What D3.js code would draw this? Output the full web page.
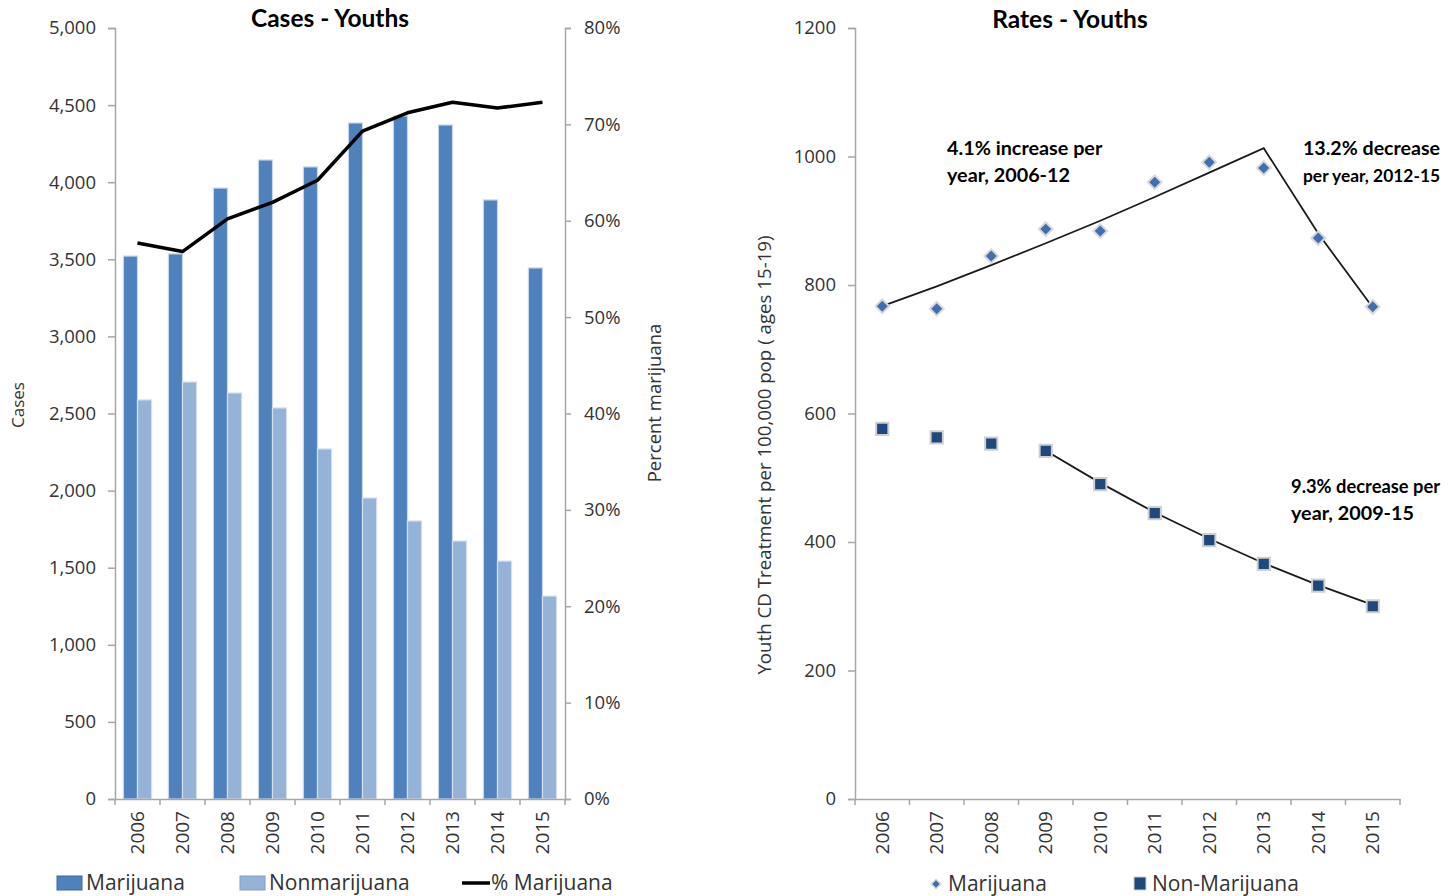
<!DOCTYPE html>
<html>
<head>
<meta charset="utf-8">
<script src="https://cdn.jsdelivr.net/npm/d3@7/dist/d3.min.js"></script>
<style>
  html, body { margin: 0; padding: 0; background: #fff; }
  svg { display: block; }
  .tick text { font-family: "Open Sans", sans-serif; fill: #333; }
</style>
</head>
<body>
<svg id="chart" width="1450" height="896"></svg>
<script>
// ---------- Data ----------
const years = ["2006","2007","2008","2009","2010","2011","2012","2013","2014","2015"];
const casesMarijuana    = [3521, 3535, 3962, 4144, 4099, 4384, 4429, 4371, 3885, 3444];
const casesNonmarijuana = [2588, 2704, 2633, 2536, 2270, 1952, 1803, 1673, 1543, 1316];
const pctMarijuana      = [57.7, 56.8, 60.2, 61.9, 64.2, 69.3, 71.2, 72.3, 71.7, 72.3];
const casesTicks = [0, 500, 1000, 1500, 2000, 2500, 3000, 3500, 4000, 4500, 5000];
const pctTicks   = [0, 10, 20, 30, 40, 50, 60, 70, 80];

const rateMarijuana    = [767, 763, 845, 887, 884, 960, 991, 982, 873, 766];
const rateNonmarijuana = [576, 563, 553, 542, 490, 445, 403, 366, 332, 300];
const trendMarijuana    = [767, 798, 831, 865, 900, 937, 975, 1013, 880, 765];
const trendNonYears     = ["2009","2010","2011","2012","2013","2014","2015"];
const trendNonmarijuana = [542, 492, 446, 405, 367, 333, 302];
const rateTicks = [0, 200, 400, 600, 800, 1000, 1200];

const annotations = [
  { lines: ["4.1% increase per", "year, 2006-12"], x: 947, y: 155 },
  { lines: ["13.2% decrease", "per year, 2012-15"], x: 1303, y: 155 },
  { lines: ["9.3% decrease per", "year, 2009-15"], x: 1291, y: 493 }
];

// ---------- Setup ----------
const svg = d3.select("#chart");
const axisColor = "#a6a6a6";
const textColor = "#333";
const cMar = "#4f81bd", cNon = "#95b3d7";

function styleAxis(g) {
  g.select(".domain").attr("stroke", axisColor).attr("stroke-width", 1.5);
  g.selectAll(".tick line").attr("stroke", axisColor).attr("stroke-width", 1.5);
}

// ================= LEFT CHART =================
const L = { x0: 115, x1: 565, y0: 799, y1: 28 };
const xL = d3.scaleBand().domain(years).range([L.x0, L.x1]);
const xSub = d3.scaleBand().domain(["m", "n"]).range([0, xL.bandwidth()]).paddingInner(0).paddingOuter(0.6);
const yCases = d3.scaleLinear().domain([0, 5000]).range([L.y0, L.y1]);
const yPct = d3.scaleLinear().domain([0, 80]).range([L.y0, L.y1]);

// bars
const gBars = svg.append("g");
years.forEach((yr, i) => {
  gBars.append("rect")
    .attr("x", xL(yr) + xSub("m")).attr("width", xSub.bandwidth())
    .attr("y", yCases(casesMarijuana[i])).attr("height", L.y0 - yCases(casesMarijuana[i]))
    .attr("fill", cMar).attr("stroke", "#c9d6e8").attr("stroke-width", 1.2);
  gBars.append("rect")
    .attr("x", xL(yr) + xSub("n")).attr("width", xSub.bandwidth())
    .attr("y", yCases(casesNonmarijuana[i])).attr("height", L.y0 - yCases(casesNonmarijuana[i]))
    .attr("fill", cNon).attr("stroke", "#d5deea").attr("stroke-width", 1.2);
});

// % line
const lineL = d3.line()
  .x((d, i) => xL(years[i]) + xL.bandwidth() / 2)
  .y(d => yPct(d));
svg.append("path").datum(pctMarijuana)
  .attr("d", lineL).attr("fill", "none").attr("stroke", "#000")
  .attr("stroke-width", 3.5).attr("stroke-linejoin", "round");

// left axis
const gLY = svg.append("g").attr("transform", `translate(${L.x0},0)`)
  .call(d3.axisLeft(yCases).tickValues(casesTicks).tickFormat(d3.format(",")).tickSize(7).tickPadding(12));
styleAxis(gLY);
gLY.selectAll(".tick text").attr("font-size", 18.5).attr("fill", textColor);

// right axis
const gLY2 = svg.append("g").attr("transform", `translate(${L.x1},0)`)
  .call(d3.axisRight(yPct).tickValues(pctTicks).tickFormat(d => d + "%").tickSize(6).tickPadding(13));
styleAxis(gLY2);
gLY2.selectAll(".tick text").attr("font-size", 18.5).attr("fill", textColor);

// bottom axis
const gLX = svg.append("g").attr("transform", `translate(0,${L.y0})`)
  .call(d3.axisBottom(xL).tickSize(0).tickPadding(0));
styleAxis(gLX);
gLX.selectAll(".tick text")
  .attr("font-size", 19).attr("fill", textColor)
  .attr("transform", "rotate(-90)")
  .attr("text-anchor", "end").attr("x", -12).attr("y", 0).attr("dy", "0.35em");
const bndL = years.map(y => xL(y)).concat([L.x1]);
svg.append("g").selectAll("line").data(bndL).join("line")
  .attr("x1", d => d).attr("x2", d => d).attr("y1", L.y0).attr("y2", L.y0 + 6)
  .attr("stroke", axisColor).attr("stroke-width", 1.5);

// titles
svg.append("text").attr("x", 330).attr("y", 27).attr("text-anchor", "middle")
  .attr("font-family", "Lato, sans-serif").attr("font-weight", "bold").attr("font-size", 24.5)
  .attr("fill", "#000").text("Cases - Youths");
svg.append("text").attr("transform", "translate(24,405) rotate(-90)").attr("text-anchor", "middle")
  .attr("font-family", "'Open Sans', sans-serif").attr("font-size", 17).attr("fill", textColor).text("Cases");
svg.append("text").attr("transform", "translate(661,403) rotate(-90)").attr("text-anchor", "middle")
  .attr("font-family", "'Open Sans', sans-serif").attr("font-size", 18.5).attr("fill", textColor).text("Percent marijuana");

// left legend
const legL = svg.append("g").attr("font-family", "'Open Sans', sans-serif").attr("font-size", 21).attr("fill", textColor);
legL.append("rect").attr("x", 57).attr("y", 876).attr("width", 25).attr("height", 14).attr("fill", cMar).attr("stroke", "#3c6aa3").attr("stroke-width", 1);
legL.append("text").attr("x", 86).attr("y", 890).text("Marijuana");
legL.append("rect").attr("x", 240).attr("y", 876).attr("width", 25).attr("height", 14).attr("fill", cNon).attr("stroke", "#7f9fc8").attr("stroke-width", 1);
legL.append("text").attr("x", 269).attr("y", 890).text("Nonmarijuana");
legL.append("line").attr("x1", 462).attr("x2", 490).attr("y1", 883).attr("y2", 883).attr("stroke", "#000").attr("stroke-width", 3.5);
legL.append("text").attr("x", 491).attr("y", 890).text("% Marijuana");

// ================= RIGHT CHART =================
const R = { x0: 855, x1: 1400, y0: 799, y1: 28 };
const xR = d3.scaleBand().domain(years).range([R.x0, R.x1]);
const yR = d3.scaleLinear().domain([0, 1200]).range([R.y0, R.y1]);
const cx = yr => xR(yr) + xR.bandwidth() / 2;

// axes
const gRY = svg.append("g").attr("transform", `translate(${R.x0},0)`)
  .call(d3.axisLeft(yR).tickValues(rateTicks).tickFormat(d3.format("d")).tickSize(7).tickPadding(12));
styleAxis(gRY);
gRY.selectAll(".tick text").attr("font-size", 18.5).attr("fill", textColor);

const gRX = svg.append("g").attr("transform", `translate(0,${R.y0})`)
  .call(d3.axisBottom(xR).tickSize(0).tickPadding(0));
styleAxis(gRX);
gRX.selectAll(".tick text")
  .attr("font-size", 19).attr("fill", textColor)
  .attr("transform", "rotate(-90)")
  .attr("text-anchor", "end").attr("x", -12).attr("y", 0).attr("dy", "0.35em");
const bndR = years.map(y => xR(y)).concat([R.x1]);
svg.append("g").selectAll("line").data(bndR).join("line")
  .attr("x1", d => d).attr("x2", d => d).attr("y1", R.y0).attr("y2", R.y0 + 6)
  .attr("stroke", axisColor).attr("stroke-width", 1.5);

// trend lines
const lineR = d3.line().x(d => cx(d[0])).y(d => yR(d[1]));
svg.append("path").datum(years.map((y, i) => [y, trendMarijuana[i]]))
  .attr("d", lineR).attr("fill", "none").attr("stroke", "#1a1a1a").attr("stroke-width", 1.8);
svg.append("path").datum(trendNonYears.map((y, i) => [y, trendNonmarijuana[i]]))
  .attr("d", lineR).attr("fill", "none").attr("stroke", "#1a1a1a").attr("stroke-width", 1.8);

// markers
const diamond = d3.symbol().type(d3.symbolSquare).size(95);
svg.append("g").selectAll("path").data(years).join("path")
  .attr("d", diamond)
  .attr("transform", (d, i) => `translate(${cx(d)},${yR(rateMarijuana[i])}) rotate(45)`)
  .attr("fill", "#3f6fae").attr("stroke", "#d9d9d9").attr("stroke-width", 2);
const square = d3.symbol().type(d3.symbolSquare).size(150);
svg.append("g").selectAll("path").data(years).join("path")
  .attr("d", square)
  .attr("transform", (d, i) => `translate(${cx(d)},${yR(rateNonmarijuana[i])})`)
  .attr("fill", "#1f497d").attr("stroke", "#cfcfcf").attr("stroke-width", 2);

// title & axis label
svg.append("text").attr("x", 1070).attr("y", 28).attr("text-anchor", "middle")
  .attr("font-family", "Lato, sans-serif").attr("font-weight", "bold").attr("font-size", 24.5)
  .attr("fill", "#000").text("Rates - Youths");
svg.append("text").attr("transform", "translate(771,455) rotate(-90)").attr("text-anchor", "middle")
  .attr("font-family", "'Open Sans', sans-serif").attr("font-size", 18.7).attr("fill", textColor)
  .text("Youth CD Treatment per 100,000 pop ( ages 15-19)");

// annotations (each line kept inside the right edge by shrinking its font size if needed)
const maxRight = 1440;
const baseSize = 19.8;
annotations.forEach(a => {
  a.lines.forEach((ln, k) => {
    const t = svg.append("text").attr("x", a.x).attr("y", a.y + k * 26.5)
      .attr("font-family", "Lato, sans-serif").attr("font-weight", "bold")
      .attr("font-size", baseSize).attr("fill", "#000").text(ln);
    const len = t.node().getComputedTextLength();
    if (a.x + len > maxRight) {
      t.attr("font-size", baseSize * (maxRight - a.x) / len);
    }
  });
});

// right legend
const legR = svg.append("g").attr("font-family", "'Open Sans', sans-serif").attr("font-size", 21).attr("fill", textColor);
legR.append("path").attr("d", d3.symbol().type(d3.symbolSquare).size(45)())
  .attr("transform", "translate(936,884) rotate(45)").attr("fill", "#3f6fae").attr("stroke", "#d9d9d9").attr("stroke-width", 1.5);
legR.append("text").attr("x", 948).attr("y", 891).text("Marijuana");
legR.append("rect").attr("x", 1134).attr("y", 877).attr("width", 12).attr("height", 13)
  .attr("fill", "#1f497d").attr("stroke", "#cfcfcf").attr("stroke-width", 1);
legR.append("text").attr("x", 1152).attr("y", 891).text("Non-Marijuana");
</script>
</body>
</html>
